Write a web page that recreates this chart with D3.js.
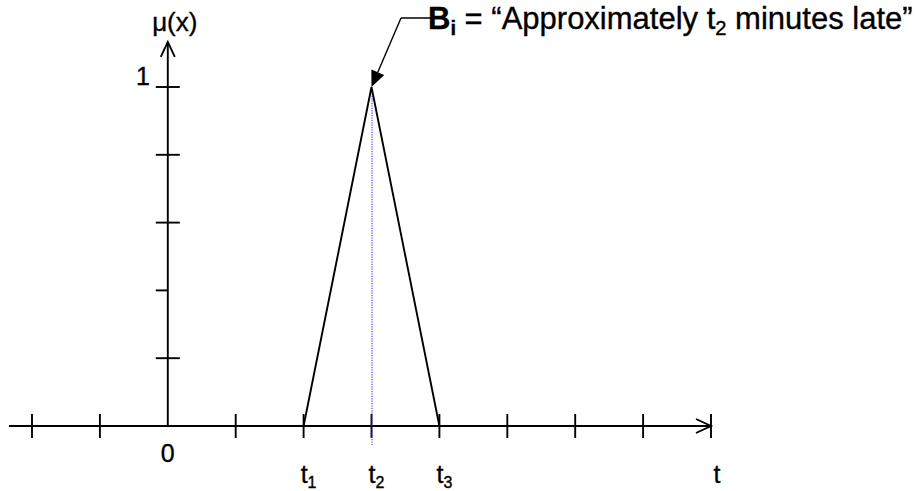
<!DOCTYPE html>
<html>
<head>
<meta charset="utf-8">
<script src="https://cdn.jsdelivr.net/npm/d3@7"></script>
<style>
  html, body { margin: 0; padding: 0; background: #fff; }
  svg text { font-family: "Liberation Sans", Arial, sans-serif; fill: #000; stroke: #000; stroke-width: 0.35px; }
</style>
</head>
<body>
<svg id="chart" width="917" height="491"></svg>
<script>
// Triangular membership function B_i over time t
const tPoints = [2, 3, 4];          // t1, t2, t3
const muValues = [0, 1, 0];         // membership at t1, t2, t3
const xTicks = [-2, -1, 1, 2, 3, 4, 5, 6, 7, 8];
const yTicks = [0.2, 0.4, 0.6, 0.8, 1];
const halfTicks = [0.4];            // tick drawn on the left side only
const xLabels = [
  { v: 0, main: "0", sub: "" },
  { v: 2, main: "t", sub: "1" },
  { v: 3, main: "t", sub: "2" },
  { v: 4, main: "t", sub: "3" },
  { v: 8, main: "t", sub: "" }
];
const yLabels = [{ v: 1, text: "1" }];
const peakIndex = 1;

const svg = d3.select("#chart");
const x = d3.scaleLinear().domain([-2, 8]).range([32, 711]);
const y = d3.scaleLinear().domain([0, 1]).range([426, 87]);

const xMin = -2.34, yMax = 1.133;
const tick = 12;
const stroke = "#000";
const sw = 1.9;

// Horizontal axis with open arrow
svg.append("line")
  .attr("x1", x(xMin)).attr("x2", x(8))
  .attr("y1", y(0)).attr("y2", y(0))
  .attr("stroke", stroke).attr("stroke-width", sw);
svg.append("path")
  .attr("d", `M${x(8) - 15},${y(0) - 7}L${x(8)},${y(0)}L${x(8) - 15},${y(0) + 7}`)
  .attr("fill", "none").attr("stroke", stroke).attr("stroke-width", sw);
svg.selectAll(".xtick").data(xTicks).join("line")
  .attr("class", "xtick")
  .attr("x1", d => x(d)).attr("x2", d => x(d))
  .attr("y1", y(0) - tick).attr("y2", y(0) + tick)
  .attr("stroke", stroke).attr("stroke-width", sw);

// Vertical axis with open arrow
svg.append("line")
  .attr("x1", x(0)).attr("x2", x(0))
  .attr("y1", y(yMax)).attr("y2", y(0) + 1)
  .attr("stroke", stroke).attr("stroke-width", sw);
svg.append("path")
  .attr("d", `M${x(0) - 7},${y(yMax) + 15}L${x(0)},${y(yMax)}L${x(0) + 7},${y(yMax) + 15}`)
  .attr("fill", "none").attr("stroke", stroke).attr("stroke-width", sw);
svg.selectAll(".ytick").data(yTicks).join("line")
  .attr("class", "ytick")
  .attr("x1", x(0) - tick)
  .attr("x2", d => halfTicks.includes(d) ? x(0) : x(0) + tick)
  .attr("y1", d => y(d)).attr("y2", d => y(d))
  .attr("stroke", stroke).attr("stroke-width", sw);

// Dotted guide at the peak
svg.append("line")
  .attr("x1", x(tPoints[peakIndex]) + 0.5).attr("x2", x(tPoints[peakIndex]) + 0.5)
  .attr("y1", y(muValues[peakIndex]) + 4).attr("y2", y(0) + 20)
  .attr("stroke", "#4444ff").attr("stroke-width", 1.2)
  .attr("stroke-dasharray", "1.2,1.2");

// Membership triangle
const line = d3.line().x((d, i) => x(tPoints[i])).y(d => y(d));
svg.append("path")
  .datum(muValues)
  .attr("d", line)
  .attr("fill", "none").attr("stroke", stroke).attr("stroke-width", sw);

// Axis labels
const fs = 25;
const xl = svg.selectAll(".xlabel").data(xLabels).join("text")
  .attr("class", "xlabel")
  .attr("x", d => x(d.v) + (d.v === 8 ? 6 : (d.sub ? 5 : 0)))
  .attr("y", d => d.sub || d.v === 8 ? 483 : 462)
  .attr("text-anchor", "middle")
  .attr("font-size", fs);
xl.append("tspan").text(d => d.main);
xl.filter(d => d.sub).append("tspan")
  .attr("font-size", 16).attr("dy", 5).text(d => d.sub);

svg.selectAll(".ylabel").data(yLabels).join("text")
  .attr("class", "ylabel")
  .attr("x", x(0) - 18).attr("y", d => y(d.v) - 2)
  .attr("text-anchor", "end")
  .attr("font-size", fs).text(d => d.text);

svg.append("text")
  .attr("x", x(0) + 7).attr("y", 31)
  .attr("text-anchor", "middle")
  .attr("font-size", 26)
  .text("μ(x)");

// Annotation with pointer to the peak
const tip = [x(tPoints[peakIndex]), y(muValues[peakIndex])];
const elbow = [401, 18];
svg.append("line")
  .attr("x1", elbow[0]).attr("y1", elbow[1])
  .attr("x2", 440).attr("y2", elbow[1])
  .attr("stroke", stroke).attr("stroke-width", 1.4);
const ang = Math.atan2(tip[1] - elbow[1], tip[0] - elbow[0]);
const headLen = 16, headW = 7;
const base = [tip[0] - headLen * Math.cos(ang), tip[1] - headLen * Math.sin(ang)];
svg.append("line")
  .attr("x1", elbow[0]).attr("y1", elbow[1])
  .attr("x2", base[0]).attr("y2", base[1])
  .attr("stroke", stroke).attr("stroke-width", 1.4);
svg.append("path")
  .attr("d", `M${tip[0]},${tip[1]}` +
    `L${base[0] + headW * Math.sin(ang)},${base[1] - headW * Math.cos(ang)}` +
    `L${base[0] - headW * Math.sin(ang)},${base[1] + headW * Math.cos(ang)}Z`)
  .attr("fill", stroke);

const afs = 31;
const ann = svg.append("text")
  .attr("x", 428).attr("y", 29)
  .attr("font-size", afs);
ann.append("tspan").attr("font-weight", "bold").text("B");
ann.append("tspan").attr("font-weight", "bold").attr("font-size", afs * 0.65).attr("dy", 6).text("i");
ann.append("tspan").attr("dy", -6).text(" = “Approximately t");
ann.append("tspan").attr("font-size", afs * 0.65).attr("dy", 6).text("2");
ann.append("tspan").attr("dy", -6).text(" minutes late”");
</script>
</body>
</html>
